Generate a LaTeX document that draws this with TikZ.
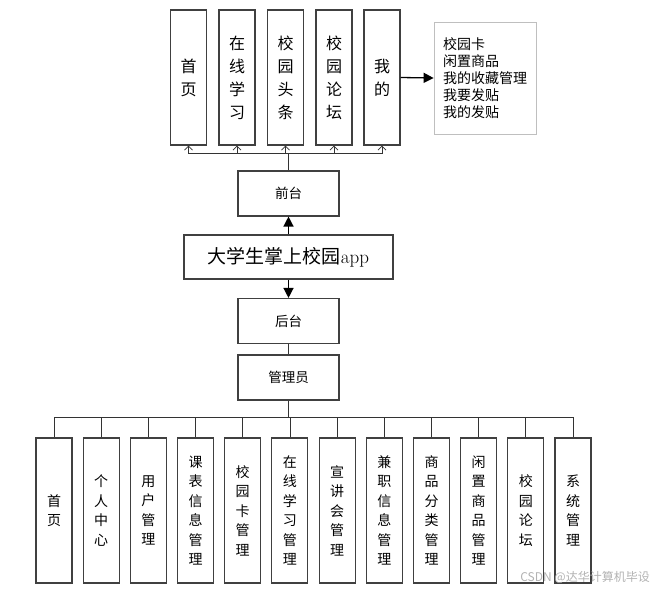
\documentclass[tikz,border=0pt]{standalone}
\usepackage{fontspec}
\newfontfamily\cjk{Noto Sans CJK SC}
\usetikzlibrary{arrows.meta}
\tikzset{
  topbox/.style={draw=black!75, line width=1.1pt, minimum width=36pt, minimum height=135pt, inner sep=0pt, align=center, font=\cjk\fontsize{16}{23}\selectfont},
  botbox/.style={draw=black!75, line width=1.1pt, minimum width=36pt, minimum height=145pt, inner sep=0pt, align=center, font=\cjk\fontsize{14}{19.5}\selectfont},
  midbox/.style={draw=black!75, line width=1.1pt, minimum width=101pt, minimum height=45pt, inner sep=0pt, font=\cjk\fontsize{13.5}{16}\selectfont},
  bus/.style={draw=black!80, line width=0.8pt},
  uptip/.style={-{Straight Barb[length=4pt,width=8pt]}},
  bigtip/.style={-{Triangle[length=10pt,width=10pt]}, line width=1.3pt},
}
\begin{document}
\begin{tikzpicture}[x=1pt, y=-1pt]
\useasboundingbox (0,0) rectangle (655,591);

% Front-end pages
\node[topbox] (t1) at (188.5,77.5) {首\\页};
\node[topbox] (t2) at (237,77.5) {在\\线\\学\\习};
\node[topbox] (t3) at (285.5,77.5) {校\\园\\头\\条};
\node[topbox] (t4) at (334,77.5) {校\\园\\论\\坛};
\node[topbox] (t5) at (382,77.5) {我\\的};
\node[draw=black!25, line width=0.8pt, minimum width=102pt, minimum height=112pt, inner sep=0pt, align=left, font=\cjk\fontsize{14}{17}\selectfont] (mine) at (485,78) {校园卡\\闲置商品\\我的收藏管理\\我要发贴\\我的发贴};

% Centre column
\node[midbox] (qt) at (288.5,193.5) {前台};
\node[draw=black!75, line width=1.1pt, minimum width=209pt, minimum height=44pt, inner sep=0pt, font=\fontsize{19}{22}\selectfont] (app) at (288.5,257) {{\cjk 大学生掌上校园}app};
\node[midbox] (ht) at (288.5,321) {后台};
\node[midbox] (gly) at (288.5,377.5) {管理员};

% Back-end modules
\node[botbox] (b1) at (54,510.5) {首\\页};
\node[botbox] (b2) at (101.2,510.5) {个\\人\\中\\心};
\node[botbox] (b3) at (148.4,510.5) {用\\户\\管\\理};
\node[botbox] (b4) at (195.5,510.5) {课\\表\\信\\息\\管\\理};
\node[botbox] (b5) at (242.7,510.5) {校\\园\\卡\\管\\理};
\node[botbox] (b6) at (289.9,510.5) {在\\线\\学\\习\\管\\理};
\node[botbox] (b7) at (337.1,510.5) {宣\\讲\\会\\管\\理};
\node[botbox] (b8) at (384.3,510.5) {兼\\职\\信\\息\\管\\理};
\node[botbox] (b9) at (431.5,510.5) {商\\品\\分\\类\\管\\理};
\node[botbox] (b10) at (478.6,510.5) {闲\\置\\商\\品\\管\\理};
\node[botbox] (b11) at (525.8,510.5) {校\\园\\论\\坛};
\node[botbox] (b12) at (573,510.5) {系\\统\\管\\理};

% Connectors
\coordinate (topbus) at (288.5,153);
\coordinate (botbus) at (288.5,417);
\draw[bus, line width=1.3pt] (qt.north) -- (topbus);
\draw[bus, uptip] (topbus) -| (t1.south);
\draw[bus, uptip] (topbus) -| (t2.south);
\draw[bus, uptip] (topbus) -| (t3.south);
\draw[bus, uptip] (topbus) -| (t4.south);
\draw[bus, uptip] (topbus) -| (t5.south);
\draw[bigtip] (t5.east) -- (mine.west);
\draw[bigtip] (app.north) -- (qt.south);
\draw[bigtip] (app.south) -- (ht.north);
\draw[bus] (ht.south) -- (gly.north);
\draw[bus, line width=1.3pt] (gly.south) -- (botbus);
\draw[bus] (botbus) -| (b1.north);
\draw[bus] (botbus) -| (b2.north);
\draw[bus] (botbus) -| (b3.north);
\draw[bus] (botbus) -| (b4.north);
\draw[bus] (botbus) -| (b5.north);
\draw[bus] (botbus) -| (b6.north);
\draw[bus] (botbus) -| (b7.north);
\draw[bus] (botbus) -| (b8.north);
\draw[bus] (botbus) -| (b9.north);
\draw[bus] (botbus) -| (b10.north);
\draw[bus] (botbus) -| (b11.north);
\draw[bus] (botbus) -| (b12.north);

\node[anchor=east, text=black!30, inner sep=0pt, font=\cjk\fontsize{12}{14}\selectfont] (wm) at (650,577) {CSDN @达华计算机毕设};
\end{tikzpicture}
\end{document}
